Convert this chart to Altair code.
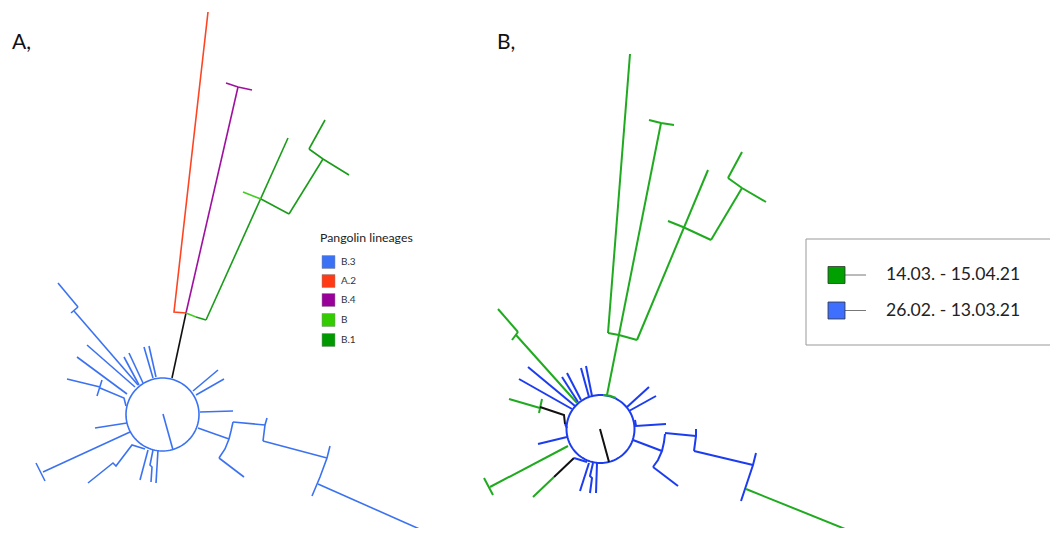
import altair as alt
import numpy as np
import pandas as pd

# ---------------- data (reference pixel coordinates of the tree drawing) ----------------
# Panel A: circular tree coloured by Pangolin lineage
A_CENTER = (162.5, 414.5)
A_RADIUS = 36.5
A_BRANCHES = [
    ("root", [(172, 378), (186, 313)]),
    ("A.2", [(186, 313), (174, 312), (208, 12)]),
    ("B.4", [(186, 313), (238, 87)]),
    ("B.4", [(226, 83), (238, 87), (252, 90)]),
    ("B", [(186, 313), (196, 317)]),
    ("B.1", [(196, 317), (206, 320)]),
    ("B.1", [(206, 320), (288, 138)]),
    ("B", [(243, 192), (261, 199)]),
    ("B.1", [(261, 199), (289, 214)]),
    ("B.1", [(289, 214), (323, 159)]),
    ("B.1", [(309, 149), (323, 159), (349, 175)]),
    ("B.1", [(309, 149), (325, 120)]),
    ("B.3", [(138, 385), (74, 311)]),
    ("B.3", [(71, 313), (78, 307)]),
    ("B.3", [(78, 307), (58, 283)]),
    ("B.3", [(87, 345), (135, 387)]),
    ("B.3", [(77, 357), (127, 394)]),
    ("B.3", [(124, 357), (139, 385)]),
    ("B.3", [(129, 353), (143, 383)]),
    ("B.3", [(144, 347), (153, 378)]),
    ("B.3", [(149, 346), (156, 377)]),
    ("B.3", [(67, 379), (100, 387)]),
    ("B.3", [(97, 396), (102, 380)]),
    ("B.3", [(100, 388), (124, 398), (126, 406)]),
    ("B.3", [(95, 428), (127, 423)]),
    ("B.3", [(130, 432), (43, 472)]),
    ("B.3", [(36, 463), (45, 481)]),
    ("B.3", [(88, 483), (113, 463), (116, 466), (132, 445), (145, 449)]),
    ("B.3", [(140, 480), (148, 450)]),
    ("B.3", [(151, 482), (152, 467), (150, 465), (153, 450)]),
    ("B.3", [(156, 483), (158, 450)]),
    ("B.3", [(163, 414), (173, 450)]),
    ("B.3", [(218, 370), (193, 391)]),
    ("B.3", [(224, 379), (196, 395)]),
    ("B.3", [(200, 412), (233, 411)]),
    ("B.3", [(198, 428), (229, 439)]),
    ("B.3", [(233, 422), (231, 431), (229, 439), (225, 449), (219, 458)]),
    ("B.3", [(219, 458), (244, 477)]),
    ("B.3", [(233, 422), (265, 425)]),
    ("B.3", [(267, 418), (265, 425), (263, 441)]),
    ("B.3", [(263, 441), (327, 458)]),
    ("B.3", [(330, 446), (327, 458), (320, 477), (312, 496)]),
    ("B.3", [(318, 484), (433, 535)]),
]

# Panel B: same tree coloured by sampling period
B_CENTER = (600.5, 429)
B_RADIUS = 34
B_BRANCHES = [
    ("late", [(603, 395), (610, 395.7), (616, 398)]),
    ("late", [(607, 395), (661, 123)]),
    ("late", [(608, 333), (619, 335), (637, 340)]),
    ("late", [(608, 333), (630, 54)]),
    ("late", [(649, 120), (661, 123), (674, 125)]),
    ("late", [(637, 340), (708, 170)]),
    ("late", [(668, 221), (683, 227), (711, 240)]),
    ("late", [(711, 240), (742, 188)]),
    ("late", [(728, 178), (742, 188), (766, 202)]),
    ("late", [(728, 178), (742, 152)]),
    ("late", [(577, 403), (516, 335)]),
    ("late", [(512, 340), (518, 332)]),
    ("late", [(518, 332), (498, 309)]),
    ("early", [(528, 367), (575, 406)]),
    ("early", [(519, 379), (572, 409)]),
    ("early", [(562, 377), (578, 402)]),
    ("early", [(567, 373), (581, 400)]),
    ("early", [(581, 368), (589, 397)]),
    ("early", [(586, 366), (592, 396)]),
    ("late", [(509, 399), (540, 408)]),
    ("late", [(542, 399), (539, 413)]),
    ("root", [(540, 407), (564, 415), (565, 424)]),
    ("early", [(565, 424), (567, 428)]),
    ("early", [(538, 444), (567, 437)]),
    ("late", [(568, 446), (490, 487)]),
    ("late", [(484, 478), (493, 495)]),
    ("late", [(533, 497), (554, 477)]),
    ("root", [(554, 477), (574, 458)]),
    ("early", [(574, 458), (587, 462)]),
    ("early", [(580, 491), (589, 463)]),
    ("early", [(590, 493), (592, 478), (590, 476), (593, 463)]),
    ("early", [(596, 493), (597, 463)]),
    ("root", [(600, 429), (609, 462)]),
    ("early", [(649, 387), (627, 407)]),
    ("early", [(656, 396), (629, 411)]),
    ("early", [(635, 420), (636, 426), (666, 424)]),
    ("early", [(633, 440), (662, 451)]),
    ("early", [(665, 434), (664, 442), (662, 451), (658, 460), (653, 467)]),
    ("early", [(653, 467), (678, 486)]),
    ("early", [(665, 433), (696, 436)]),
    ("early", [(696, 429), (696, 436), (694, 451)]),
    ("early", [(694, 451), (753, 465)]),
    ("early", [(756, 453), (753, 465), (748, 480), (741, 501)]),
    ("late", [(746, 489), (860, 535)]),
]

# Legend A
LINEAGES = ["B.3", "A.2", "B.4", "B", "B.1"]
LINEAGE_COLORS = ["#3b72f5", "#ff3a14", "#990099", "#33cc00", "#009900"]
LEG_A_Y = [262, 281, 300, 320, 340]
# Legend B
PERIODS = ["14.03. - 15.04.21", "26.02. - 13.03.21"]
PERIOD_COLORS = ["#00a000", "#3f6fff"]
LEG_B_Y = [275, 310.5]

# line colour scale
color_domain = ["B.3", "A.2", "B.4", "B", "B.1", "root", "late", "early"]
color_range = ["#3b72f2", "#ff4422", "#a0109f", "#44cc22", "#1a9c1a", "#111111", "#1faa1f", "#1c3cf0"]

# ---------------- build tables ----------------
rows = []
bid = 0

def add(group, pts, w):
    global bid
    for i, (x, y) in enumerate(pts):
        rows.append({"bid": bid, "ord": i, "x": x, "y": y, "c": group, "w": w})
    bid += 1

def circle_pts(center, r):
    t = np.linspace(0, 2 * np.pi, 121)
    return list(zip(center[0] + r * np.cos(t), center[1] + r * np.sin(t)))

add("B.3", circle_pts(A_CENTER, A_RADIUS), 1.6)
for g, p in A_BRANCHES:
    add(g, p, 1.6)
add("early", circle_pts(B_CENTER, B_RADIUS), 2.0)
for g, p in B_BRANCHES:
    add(g, p, 2.0)
lines_df = pd.DataFrame(rows)

xs = alt.Scale(domain=[8, 1050], range=[0, 1042], nice=False, zero=False)
ys = alt.Scale(domain=[8, 528], range=[0, 520], nice=False, zero=False)
X = lambda f: alt.X(f, scale=xs, axis=None)
Y = lambda f: alt.Y(f, scale=ys, axis=None)

lines = alt.Chart(lines_df).mark_line(strokeCap="butt", strokeJoin="miter").encode(
    x=X("x:Q"), y=Y("y:Q"),
    color=alt.Color("c:N", scale=alt.Scale(domain=color_domain, range=color_range), legend=None),
    strokeWidth=alt.StrokeWidth("w:Q", scale=None),
    detail="bid:N", order="ord:Q",
)

# panel labels
lab_df = pd.DataFrame({"t": ["A,", "B,"], "x": [12, 497], "y": [43, 43]})
labels = alt.Chart(lab_df).mark_text(align="left", baseline="middle", fontSize=21, font="Lato", color="#111").encode(
    x=X("x:Q"), y=Y("y:Q"), text="t:N")

# legend A
legA_df = pd.DataFrame({"t": LINEAGES, "col": LINEAGE_COLORS, "y": LEG_A_Y})
legA_df["x0"] = 322; legA_df["x1"] = 335
legA_df["y0"] = legA_df["y"] - 6.5; legA_df["y1"] = legA_df["y"] + 6.5
legA_df["tx"] = 341
legA_sw = alt.Chart(legA_df).mark_rect(stroke="#888", strokeWidth=0.5).encode(
    x=X("x0:Q"), x2="x1:Q", y=Y("y0:Q"), y2="y1:Q", fill=alt.Fill("col:N", scale=None))
legA_tx = alt.Chart(legA_df).mark_text(align="left", baseline="middle", fontSize=10, font="Lato", color="#333").encode(
    x=X("tx:Q"), y=Y("y:Q"), text="t:N")
legA_title = alt.Chart(pd.DataFrame({"t": ["Pangolin lineages"], "x": [320], "y": [238]})).mark_text(
    align="left", baseline="middle", fontSize=12.3, font="Lato", color="#222").encode(
    x=X("x:Q"), y=Y("y:Q"), text="t:N")

# legend B
boxB = alt.Chart(pd.DataFrame({"x0": [806], "x1": [1064], "y0": [239], "y1": [345]})).mark_rect(
    fill="white", stroke="#999", strokeWidth=1).encode(x=X("x0:Q"), x2="x1:Q", y=Y("y0:Q"), y2="y1:Q")
legB_df = pd.DataFrame({"t": PERIODS, "col": PERIOD_COLORS, "y": LEG_B_Y})
legB_df["x0"] = 828; legB_df["x1"] = 845
legB_df["y0"] = legB_df["y"] - 8.5; legB_df["y1"] = legB_df["y"] + 8.5
legB_df["lx0"] = 845; legB_df["lx1"] = 866
legB_df["tx"] = 886
legB_ln = alt.Chart(legB_df).mark_rule(color="#777", strokeWidth=1).encode(
    x=X("lx0:Q"), x2="lx1:Q", y=Y("y:Q"))
legB_sw = alt.Chart(legB_df).mark_rect(stroke="#333", strokeWidth=0.8).encode(
    x=X("x0:Q"), x2="x1:Q", y=Y("y0:Q"), y2="y1:Q", fill=alt.Fill("col:N", scale=None))
legB_tx = alt.Chart(legB_df).mark_text(align="left", baseline="middle", fontSize=17.6, font="Lato", color="#222").encode(
    x=X("tx:Q"), y=Y("y:Q"), text="t:N")

chart = alt.layer(
    lines, labels, legA_sw, legA_tx, legA_title, boxB, legB_ln, legB_sw, legB_tx
).properties(width=1042, height=520, padding=0, autosize=alt.AutoSizeParams(type="none")).configure_view(stroke=None)

chart.save("out.html", embed_options={"renderer": "svg", "actions": False})
